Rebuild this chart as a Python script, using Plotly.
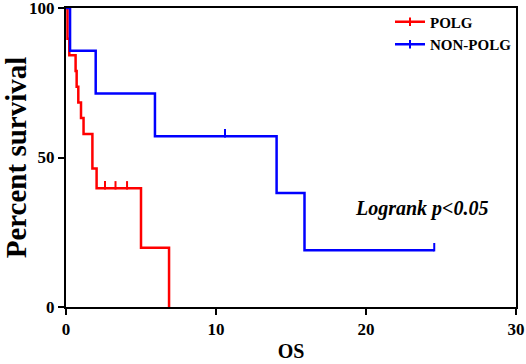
import plotly.graph_objects as go

# POLG group (Kaplan-Meier steps)
polg_time = [0, 0.1, 0.22, 0.64, 0.71, 0.82, 1.0, 1.17, 1.76, 2.04, 5.0, 6.87]
polg_surv = [100, 89.7, 84.2, 78.9, 73.7, 68.4, 63.2, 57.9, 46.3, 39.7, 19.8, 0]
polg_cens_time = [2.6, 3.3, 4.07]
polg_cens_surv = [39.7, 39.7, 39.7]

# NON-POLG group
non_time = [0, 0.27, 1.98, 5.93, 14.04, 15.9, 24.55]
non_surv = [100, 85.7, 71.4, 57.1, 38.1, 19.0, 19.0]
non_cens_time = [10.6, 24.55]
non_cens_surv = [57.1, 19.0]

x_ticks = [0, 10, 20, 30]
y_ticks = [0, 50, 100]

RED = "#ff0000"
BLUE = "#0000ff"
FONT = "Liberation Serif"

fig = go.Figure()


def add_group(name, t, s, ct, cs, color):
    fig.add_trace(go.Scatter(
        x=t, y=s, mode="lines", line=dict(color=color, width=2.5, shape="hv"),
        name=name, showlegend=False, hoverinfo="skip"))
    fig.add_trace(go.Scatter(
        x=ct, y=[v + 1.0 for v in cs], mode="markers",
        marker=dict(symbol="line-ns", size=6, line=dict(color=color, width=2)),
        name=name, showlegend=False, hoverinfo="skip"))
    # legend entry
    fig.add_trace(go.Scatter(
        x=[None], y=[None], mode="lines+markers", name=name,
        line=dict(color=color, width=2.5),
        marker=dict(symbol="line-ns", size=6, line=dict(color=color, width=2))))


add_group("POLG", polg_time, polg_surv, polg_cens_time, polg_cens_surv, RED)
add_group("NON-POLG", non_time, non_surv, non_cens_time, non_cens_surv, BLUE)

axis_common = dict(
    showline=True, linecolor="black", linewidth=2, mirror=True,
    ticks="outside", ticklen=6, tickwidth=2, tickcolor="black",
    showgrid=False, zeroline=False, automargin=False,
    ticklabeloverflow="allow",
    tickfont=dict(family=FONT, size=17, color="black", weight="bold"),
)

fig.update_xaxes(range=[0, 30], tickvals=x_ticks, **axis_common,
                 title=dict(text="OS", font=dict(family=FONT, size=20, color="black", weight="bold"),
                            standoff=6))
fig.update_yaxes(range=[0, 100], tickvals=y_ticks, **axis_common,
                 title=dict(text="Percent survival", font=dict(family=FONT, size=29, color="black", weight="bold"),
                            standoff=4))

fig.add_annotation(xref="paper", yref="paper", x=0.791, y=0.33,
                   xanchor="center", yanchor="middle", showarrow=False,
                   text="<b><i>Logrank p<0.05</i></b>",
                   font=dict(family=FONT, size=20, color="black"))

fig.update_layout(
    width=526, height=364,
    margin=dict(l=66, r=10, t=7, b=57),
    plot_bgcolor="white", paper_bgcolor="white",
    font=dict(family=FONT, color="black"),
    legend=dict(x=0.72, y=1.005, xanchor="left", yanchor="top",
                bgcolor="rgba(0,0,0,0)", tracegroupgap=0,
                font=dict(family=FONT, size=15, color="black", weight="bold")),
)

fig.write_html("out.html", config={"displayModeBar": False},
               post_script="document.body.style.margin='0';document.body.style.overflow='hidden';")
